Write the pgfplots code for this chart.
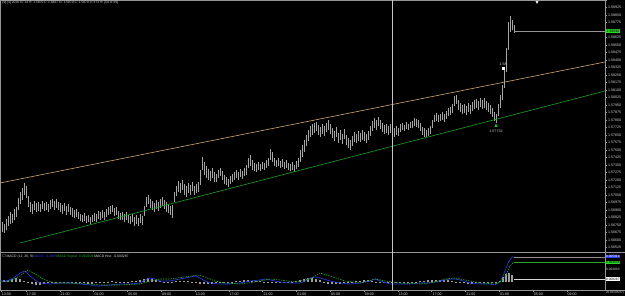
\documentclass[border=0pt]{standalone}
\usepackage{amssymb}
\usepackage{pgfplots}
\pgfplotsset{compat=1.18}
\usepackage{pgfplotstable}
\usepackage{fontspec}
\setmainfont{Liberation Sans}
\definecolor{candle}{RGB}{165,165,165}
\definecolor{axgray}{RGB}{150,150,150}
\definecolor{lbl}{RGB}{215,215,215}
\definecolor{trendor}{RGB}{205,170,115}
\definecolor{trendgr}{RGB}{30,160,40}
\definecolor{macdblue}{RGB}{40,60,230}
\definecolor{macdgreen}{RGB}{40,170,40}
\definecolor{lblgreen}{RGB}{40,220,40}
\newcommand{\tf}{\fontsize{3.6}{4}\selectfont}

\pgfplotstableread{
x lo hi
2 1.5668 1.5678
4 1.5667 1.5676
6 1.5670 1.5681
8 1.5674 1.5684
10 1.5676 1.5688
12 1.5677 1.5686
14 1.5680 1.5691
16 1.5683 1.5693
18 1.5690 1.5702
20 1.5696 1.5708
22 1.5700 1.5712
24 1.5705 1.5717
26 1.5702 1.5714
28 1.5693 1.5704
30 1.5688 1.5698
32 1.5686 1.5696
34 1.5690 1.5699
36 1.5688 1.5697
38 1.5689 1.5698
40 1.5688 1.5696
42 1.5691 1.5699
44 1.5689 1.5697
46 1.5690 1.5698
48 1.5688 1.5696
50 1.5691 1.5700
52 1.5693 1.5701
54 1.5690 1.5699
56 1.5692 1.5701
58 1.5690 1.5698
60 1.5688 1.5697
62 1.5686 1.5695
64 1.5689 1.5697
66 1.5685 1.5694
68 1.5688 1.5696
70 1.5685 1.5693
72 1.5683 1.5692
74 1.5682 1.5690
76 1.5683 1.5691
78 1.5681 1.5688
80 1.5679 1.5686
82 1.5678 1.5685
84 1.5679 1.5687
86 1.5677 1.5684
88 1.5678 1.5685
90 1.5676 1.5683
92 1.5678 1.5685
94 1.5679 1.5687
96 1.5678 1.5686
98 1.5681 1.5689
100 1.5680 1.5688
102 1.5682 1.5690
104 1.5680 1.5688
106 1.5683 1.5691
108 1.5685 1.5693
110 1.5686 1.5694
112 1.5688 1.5695
114 1.5684 1.5692
116 1.5685 1.5693
118 1.5681 1.5689
120 1.5680 1.5687
122 1.5680 1.5688
124 1.5678 1.5686
126 1.5680 1.5688
128 1.5677 1.5685
130 1.5676 1.5684
132 1.5678 1.5686
134 1.5674 1.5683
136 1.5676 1.5685
138 1.5674 1.5682
140 1.5677 1.5686
142 1.5675 1.5684
144 1.5684 1.5694
146 1.5693 1.5703
148 1.5696 1.5705
150 1.5692 1.5701
152 1.5690 1.5699
154 1.5688 1.5697
156 1.5691 1.5700
158 1.5689 1.5698
160 1.5692 1.5701
162 1.5694 1.5703
164 1.5691 1.5700
166 1.5688 1.5698
168 1.5687 1.5696
170 1.5685 1.5694
172 1.5682 1.5695
174 1.5698 1.5708
176 1.5704 1.5714
178 1.5708 1.5719
180 1.5707 1.5717
182 1.5710 1.5720
184 1.5705 1.5716
186 1.5703 1.5714
188 1.5707 1.5717
190 1.5705 1.5715
192 1.5709 1.5718
194 1.5705 1.5714
196 1.5707 1.5716
198 1.5708 1.5718
200 1.5715 1.5730
202 1.5730 1.5743
204 1.5725 1.5738
206 1.5722 1.5734
208 1.5720 1.5731
210 1.5719 1.5729
212 1.5722 1.5732
214 1.5718 1.5728
216 1.5718 1.5726
218 1.5722 1.5730
220 1.5724 1.5732
222 1.5720 1.5729
224 1.5716 1.5725
226 1.5715 1.5723
228 1.5713 1.5721
230 1.5716 1.5724
232 1.5718 1.5726
234 1.5720 1.5728
236 1.5722 1.5730
238 1.5720 1.5728
240 1.5723 1.5731
242 1.5721 1.5729
244 1.5724 1.5732
246 1.5725 1.5735
248 1.5732 1.5742
250 1.5734 1.5745
252 1.5730 1.5740
254 1.5729 1.5737
256 1.5728 1.5736
258 1.5730 1.5738
260 1.5729 1.5736
262 1.5731 1.5738
264 1.5730 1.5737
266 1.5732 1.5740
268 1.5734 1.5742
270 1.5740 1.5751
272 1.5738 1.5748
274 1.5734 1.5742
276 1.5733 1.5740
278 1.5734 1.5742
280 1.5732 1.5739
282 1.5733 1.5741
284 1.5731 1.5738
286 1.5732 1.5740
288 1.5730 1.5737
290 1.5729 1.5736
292 1.5730 1.5738
294 1.5728 1.5735
296 1.5731 1.5739
298 1.5733 1.5742
300 1.5738 1.5750
302 1.5743 1.5755
304 1.5748 1.5760
306 1.5754 1.5765
308 1.5759 1.5770
310 1.5763 1.5774
312 1.5765 1.5776
314 1.5767 1.5777
316 1.5769 1.5778
318 1.5765 1.5775
320 1.5763 1.5773
322 1.5766 1.5776
324 1.5764 1.5774
326 1.5768 1.5777
328 1.5770 1.5780
330 1.5766 1.5776
332 1.5762 1.5772
334 1.5759 1.5769
336 1.5763 1.5773
338 1.5757 1.5767
340 1.5760 1.5770
342 1.5756 1.5766
344 1.5761 1.5771
346 1.5755 1.5765
348 1.5752 1.5762
350 1.5750 1.5760
352 1.5754 1.5764
354 1.5758 1.5768
356 1.5757 1.5766
358 1.5759 1.5769
360 1.5758 1.5767
362 1.5760 1.5770
364 1.5759 1.5768
366 1.5757 1.5766
368 1.5760 1.5769
370 1.5764 1.5774
372 1.5769 1.5779
374 1.5772 1.5782
376 1.5770 1.5780
378 1.5774 1.5783
380 1.5771 1.5780
382 1.5768 1.5777
384 1.5766 1.5775
386 1.5767 1.5776
388 1.5765 1.5774
390 1.5767 1.5776
392 1.5764 1.5773
394 1.5763 1.5772
396 1.5765 1.5774
398 1.5764 1.5772
400 1.5768 1.5776
402 1.5770 1.5777
404 1.5769 1.5775
406 1.5771 1.5778
408 1.5770 1.5776
410 1.5772 1.5778
412 1.5772 1.5779
414 1.5774 1.5782
416 1.5773 1.5781
418 1.5772 1.5780
420 1.5769 1.5777
422 1.5765 1.5773
424 1.5763 1.5772
426 1.5763 1.5770
428 1.5764 1.5772
430 1.5766 1.5774
432 1.5772 1.5780
434 1.5778 1.5785
436 1.5779 1.5787
438 1.5778 1.5785
440 1.5779 1.5786
442 1.5780 1.5788
444 1.5778 1.5786
446 1.5781 1.5789
448 1.5784 1.5792
450 1.5785 1.5793
452 1.5787 1.5796
454 1.5794 1.5804
456 1.5796 1.5805
458 1.5790 1.5800
460 1.5788 1.5797
462 1.5786 1.5795
464 1.5787 1.5796
466 1.5785 1.5794
468 1.5788 1.5797
470 1.5786 1.5795
472 1.5789 1.5798
474 1.5791 1.5800
476 1.5792 1.5801
478 1.5790 1.5799
480 1.5793 1.5802
482 1.5791 1.5800
484 1.5792 1.5802
486 1.5790 1.5799
488 1.5788 1.5797
490 1.5786 1.5795
492 1.5783 1.5792
494 1.5779 1.5788
496 1.5777 1.5786
498 1.5784 1.5796
500 1.5792 1.5805
502 1.5800 1.5815
504 1.5812 1.5830
506 1.5828 1.5852
508 1.5850 1.5878
510 1.5868 1.5884
512 1.5870 1.5880
514 1.5867 1.5875
}\candles

\pgfplotstableread{
x v
0 0.00025
5 0.00025
10 0.0005
15 0.00125
20 0.00225
25 0.00275
30 0.0015
35 0.0005
40 -0.00025
50 -0.0005
60 -0.00025
70 -0.00025
80 -0.0005
90 -0.00075
95 -0.001
100 -0.001
110 -0.00075
120 -0.0005
130 -0.0005
140 -0.00025
145 0.0005
150 0.001
155 0.00075
160 0.00025
170 0.00025
180 0.00075
190 0.00125
195 0.0015
200 0.001
205 0.00025
210 -0.00025
220 -0.0005
230 -0.0005
240 -0.00025
250 0.00025
260 0.0005
265 0.00075
270 0.0005
280 0
290 -0.00025
300 -0.00025
305 0.00025
310 0.001
315 0.00125
320 0.001
330 0.00025
340 -0.00025
350 -0.0005
360 -0.00025
370 0.00025
375 0.00075
380 0.00025
390 -0.0005
400 -0.0005
410 -0.0005
420 -0.00025
430 -0.00025
440 0.00025
450 0.00075
455 0.00075
460 0.0005
470 -0.00025
480 -0.0005
490 -0.0005
495 -0.00075
500 0
503 0.0015
506 0.0035
509 0.00525
512 0.00625
514 0.00625
}\macdmain

\pgfplotstableread{
x v
0 0
10 0.00025
20 0.0015
25 0.0025
28 0.003
35 0.002
45 0.0005
55 -0.00025
70 -0.00025
90 -0.0005
100 -0.00075
120 -0.00075
140 -0.0005
150 0.00025
160 0.00075
170 0.00075
185 0.00125
198 0.00175
205 0.00125
215 0.00025
225 -0.00025
240 -0.0005
255 0
270 0.00075
280 0.0005
295 0
310 0.00075
320 0.00225
330 0.0015
345 0.00025
360 -0.00025
375 0.00075
385 0.00025
400 -0.00025
420 -0.0005
435 0
445 0.00075
455 0.001
465 0.0005
480 -0.00025
495 -0.0005
502 0.00025
506 0.00175
510 0.004
514 0.005
}\macdsignal

\pgfplotstableread{
x v
0 0.0002
4 0.0004
8 0.0005
12 0.0008
16 0.0009
20 0.0007
24 0.0003
28 -0.0003
32 -0.0006
36 -0.0008
40 -0.0007
44 -0.0005
48 -0.0003
52 -0.0002
56 -0.0001
60 0.0001
64 0.0001
68 -0.0001
72 -0.0002
76 -0.0002
80 -0.0003
84 -0.0003
88 -0.0004
92 -0.0004
96 -0.0003
100 -0.0002
104 -0.0001
108 0.0001
112 0.0002
116 0.0001
120 0.0001
124 0.0001
128 0.0001
132 0.0002
136 0.0003
140 0.0005
144 0.0008
148 0.0009
152 0.0007
156 0.0004
160 0.0002
164 -0.0001
168 -0.0002
172 0.0001
176 0.0002
180 0.0003
184 0.0003
188 0.0002
192 0.0001
196 -0.0001
200 -0.0004
204 -0.0006
208 -0.0006
212 -0.0005
216 -0.0003
220 -0.0002
224 -0.0001
228 0.0001
232 0.0001
236 0.0002
240 0.0003
244 0.0004
248 0.0004
252 0.0003
256 0.0002
260 0.0002
264 0.0001
268 -0.0001
272 -0.0002
276 -0.0003
280 -0.0003
284 -0.0002
288 -0.0001
292 0.0001
296 0.0002
300 0.0004
304 0.0007
308 0.0010
312 0.0011
316 0.0008
320 0.0004
324 -0.0001
328 -0.0004
332 -0.0005
336 -0.0005
340 -0.0004
344 -0.0002
348 -0.0001
352 0.0001
356 0.0002
360 0.0003
364 0.0004
368 0.0004
372 0.0003
376 0.0001
380 -0.0001
384 -0.0003
388 -0.0003
392 -0.0002
396 -0.0002
400 -0.0001
404 -0.0001
408 0.0001
412 0.0001
416 0.0001
420 0.0002
424 0.0003
428 0.0004
432 0.0005
436 0.0006
440 0.0006
444 0.0005
448 0.0004
452 0.0002
456 0.0001
460 -0.0002
464 -0.0003
468 -0.0004
472 -0.0004
476 -0.0003
480 -0.0002
484 -0.0002
488 -0.0001
492 -0.0001
496 -0.0001
500 0.0003
503 0.0012
506 0.0020
509 0.0023
512 0.0018
}\macdhist

\begin{document}
\begin{tikzpicture}
\path[use as bounding box, fill=black] (0,0) rectangle (625pt,296pt);

% ---------------- price panel ----------------
\begin{axis}[
  at={(0pt,44pt)}, anchor=south west,
  scale only axis, width=605pt, height=252pt,
  xmin=0, xmax=605, ymin=1.5648, ymax=1.5900,
  clip=false,
  axis line style={axgray, line width=0.5pt},
  xtick=\empty,
  ytick={1.56525,1.566,1.56675,1.5675,1.56825,1.569,1.56975,1.5705,1.57125,1.572,1.57275,1.5735,1.57425,1.575,1.57575,1.5765,1.57725,1.578,1.57875,1.5795,1.58025,1.581,1.58175,1.5825,1.58325,1.584,1.58475,1.5855,1.58625,1.58775,1.5885,1.58925},
  extra y ticks={1.5870,1.5900}, extra y tick labels={},
  scaled y ticks=false,
  ytick pos=right, yticklabel pos=right,
  ytick align=outside,
  major tick length=2pt,
  tick style={axgray, line width=0.4pt},
  yticklabel style={font=\tf, text=lbl, inner sep=0.6pt, xshift=0.3pt},
  yticklabel={\pgfmathprintnumber[fixed, fixed zerofill, precision=5, assume math mode=true]{\tick}},
]
% candles
\addplot[draw=none, mark=none, forget plot,
  error bars/.cd, y dir=minus, y explicit, error mark=none,
  error bar style={draw=candle, line width=0.65pt}]
  table[x=x, y=hi, y error minus expr=\thisrow{hi}-\thisrow{lo}] {\candles};
% trend lines
\addplot[trendor, line width=0.6pt] coordinates {(0,1.5717) (605,1.5838)};
\addplot[trendgr, line width=0.6pt] coordinates {(20,1.5657) (605,1.5809)};
% current price line
\addplot[axgray, line width=0.45pt] coordinates {(514,1.5869) (605,1.5869)};
% vertical crosshair
\addplot[white!78!black, line width=0.5pt] coordinates {(392,1.5648) (392,1.5900)};
% markers
\addplot[only marks, mark=triangle*, mark size=1.5pt, color=lblgreen] coordinates {(496,1.5774)};
\addplot[only marks, mark=square*, mark size=1.1pt, color=white] coordinates {(503,1.5832)};
\addplot[only marks, mark=triangle*, mark options={rotate=180}, mark size=1.3pt, color=white] coordinates {(537,1.5898)};
\node[font=\tf, text=lbl, anchor=north, inner sep=0.3pt] at (axis cs:496,1.57705) {1.57732};
\node[font=\tf, text=lbl, anchor=south, inner sep=0.3pt] at (axis cs:503,1.5834) {1.58};
% current price label
\node[font=\tf, fill=lblgreen, text=black, anchor=west, inner sep=0.7pt] at (axis cs:605.5,1.5869) {1.58690};
% header
\node[font=\fontsize{3.3}{3.8}\selectfont, text=lbl, anchor=north west, inner sep=0pt] at (rel axis cs:0.004,0.995)
  {[9] [3] 2016.07.14 H: 1.5870 L: 1.5867 O: 1.5870 C: 1.5870 V: 673 H: [50 of 49]};
\end{axis}

% separators across full width
\draw[axgray, line width=0.5pt] (0,44pt) -- (625pt,44pt);
\draw[axgray, line width=0.5pt] (0,6pt) -- (625pt,6pt);

% ---------------- MACD panel ----------------
\begin{axis}[
  at={(0pt,6pt)}, anchor=south west,
  scale only axis, width=605pt, height=38pt,
  xmin=0, xmax=605, ymin=-0.002, ymax=0.0075,
  clip=false,
  axis line style={axgray, line width=0.5pt},
  ytick=\empty,
  xtick={1,26,59.8,93.6,127.4,161.2,195,228.8,262.6,296.4,330.2,364,397.8,431.6,465.4,499.2,533,566.8},
  xticklabels={13:00,17:00,21:00,01:00,05:00,09:00,13:00,17:00,21:00,01:00,05:00,09:00,13:00,17:00,21:00,01:00,05:00,09:00},
  xtick pos=bottom, xtick align=outside,
  major tick length=2pt,
  tick style={axgray, line width=0.4pt},
  xticklabel style={font=\tf, text=lbl, anchor=north west, inner sep=0.4pt, xshift=0.3pt},
]
\addplot[ycomb, color=white!62!black, line width=1.1pt, mark=none] table[x=x, y=v] {\macdhist};
\addplot[macdblue, line width=0.6pt, mark=none] table[x=x, y=v] {\macdmain};
\addplot[macdgreen, line width=0.6pt, dash pattern=on 1.5pt off 1pt, mark=none] table[x=x, y=v] {\macdsignal};
\addplot[white!78!black, line width=0.5pt] coordinates {(392,-0.002) (392,0.0075)};
% level lines to the scale
\addplot[white!55!black, line width=0.45pt] coordinates {(514,0.00625) (605,0.00625)};
\addplot[macdgreen, line width=0.45pt] coordinates {(514,0.005) (605,0.005)};
\addplot[white!85!black, line width=0.45pt] coordinates {(514,0.00075) (605,0.00075)};
% right labels
\node[font=\fontsize{3.2}{3.6}\selectfont, fill=macdblue, text=white, anchor=west, inner sep=0.5pt] at (axis cs:605.5,0.0064) {0.005914};
\node[font=\fontsize{3.2}{3.6}\selectfont, fill=lblgreen, text=black, anchor=west, inner sep=0.5pt] at (axis cs:605.5,0.0049) {0.004638};
\node[font=\fontsize{3.2}{3.6}\selectfont, text=lbl, anchor=west, inner sep=0.5pt] at (axis cs:605.5,0.00325) {0.003003};
\node[font=\fontsize{3.2}{3.6}\selectfont, fill=white, text=black, anchor=west, inner sep=0.5pt] at (axis cs:605.5,0.00075) {0.000287};
\node[font=\fontsize{3}{3.4}\selectfont, text=lbl, anchor=north west, inner sep=0.3pt] at (axis cs:605.5,-0.0021) {20.00 (06.07)};
% title
\node[font=\fontsize{3.4}{3.8}\selectfont, anchor=north west, inner sep=0pt] at (rel axis cs:0.003,0.93)
  {\textcolor{lbl}{$\square$ MACD (12, 26, 9)}\textcolor{macdblue}{ MACD: -0.0005}\textcolor{macdgreen}{ MACD Signal: 0.002209,}\textcolor{lbl}{ MACD Hist: -0.000287}};
\end{axis}
\end{tikzpicture}
\end{document}
